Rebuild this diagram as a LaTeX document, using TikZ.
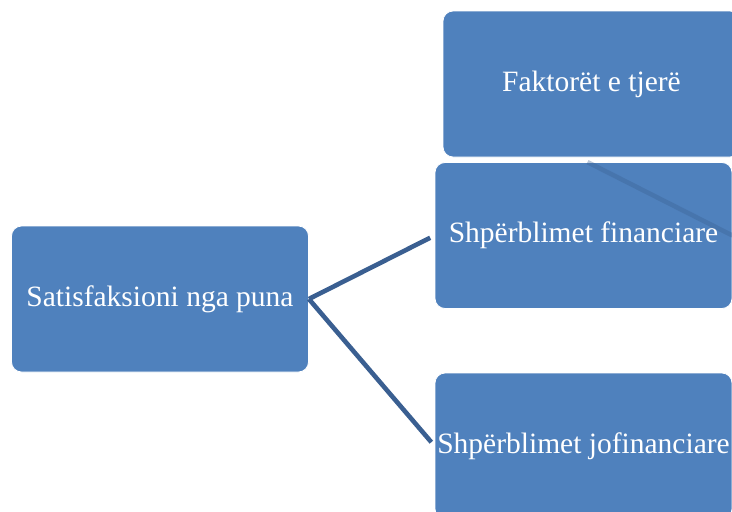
\documentclass[tikz,border=0pt]{standalone}
\usepackage{fontspec}
\setmainfont{Liberation Serif}
\definecolor{boxblue}{RGB}{79,129,189}
\definecolor{linkblue}{RGB}{58,95,145}
\begin{document}
\begin{tikzpicture}[x=1pt,y=-1pt,
  card/.style={rectangle, rounded corners=10pt, fill=boxblue, draw=white, line width=0.8pt,
    minimum width=297pt, minimum height=146pt, inner sep=0pt,
    text=white, font=\fontsize{29.5}{34}\selectfont},
  link/.style={draw=linkblue, line width=4.6pt, shorten >=5pt},
  ghost/.style={draw=linkblue, line width=4.6pt, opacity=0.35}]
\useasboundingbox (0,0) rectangle (732,512);
\clip (0,0) rectangle (732,512);
\node[card] (top) at (591.5,84) {Faktorët e tjerë};
\node[card] (mid) at (583.5,235.5) {Shpërblimet financiare};
\node[card] (bot) at (583.5,446) {Shpërblimet jofinanciare};
\node[card] (left) at (160,299) {Satisfaksioni nga puna};
\draw[ghost] ([xshift=4pt]mid.north) -- (mid.east);
\draw[link] (left.east) -- (mid.west);
\draw[link] (left.east) -- (bot.west);
\end{tikzpicture}
\end{document}
